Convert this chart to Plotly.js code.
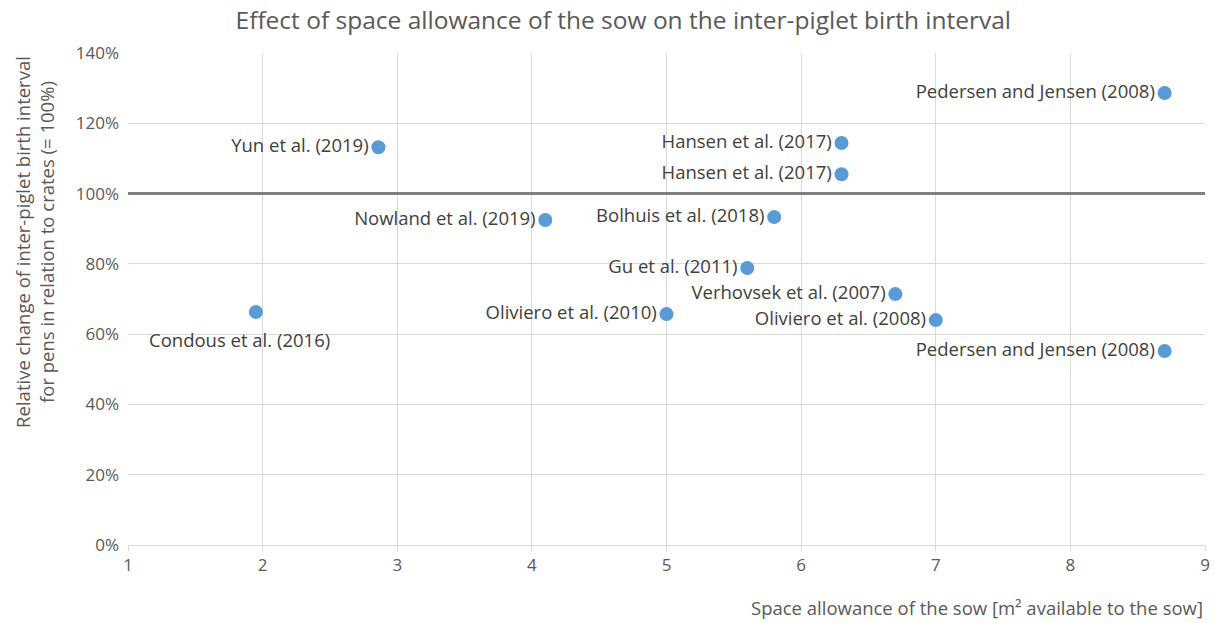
<!DOCTYPE html>
<html><head><meta charset="utf-8">
<script src="https://cdn.plot.ly/plotly-3.0.1.min.js"></script>
<style>html,body{margin:0;padding:0;background:#fff}#chart{width:1215px;height:623px}</style>
</head><body><div id="chart"></div>
<script>
const studies = ["Condous et al. (2016)","Yun et al. (2019)","Nowland et al. (2019)","Oliviero et al. (2010)","Gu et al. (2011)","Bolhuis et al. (2018)","Hansen et al. (2017)","Hansen et al. (2017)","Verhovsek et al. (2007)","Oliviero et al. (2008)","Pedersen and Jensen (2008)","Pedersen and Jensen (2008)"];
const space = [1.95, 2.86, 4.1, 5.0, 5.6, 5.8, 6.3, 6.3, 6.7, 7.0, 8.7, 8.7];
const relChange = [0.663, 1.132, 0.925, 0.657, 0.788, 0.933, 1.144, 1.055, 0.714, 0.640, 1.286, 0.552];
const refX = [1, 9];
const refY = [1.0, 1.0];

const font = "Open Sans, Liberation Sans, sans-serif";
// first study label sits below its point; others to the left
const sideText = studies.map((s,i)=> i===0 ? "" : s);
const traces = [
 {x: refX, y: refY, mode: "lines", line: {color: "#808080", width: 3}, hoverinfo: "skip", showlegend: false},
 {x: space, y: relChange, mode: "markers+text", text: sideText, textposition: "middle left",
  textfont: {family: font, size: 18.5, color: "#404040"},
  marker: {color: "#5B9BD5", size: 14}, showlegend: false, cliponaxis: false}
];
const layout = {
 width: 1215, height: 623,
 margin: {l: 128, r: 10, t: 53, b: 78},
 paper_bgcolor: "#fff", plot_bgcolor: "#fff",
 font: {family: font, color: "#595959", size: 17},
 title: {text: "Effect of space allowance of the sow on the inter-piglet birth interval", x: 0.513, xanchor: "center", y: 0.968, yanchor: "middle", font: {size: 24.5, color: "#595959", family: font}},
 xaxis: {range: [1, 9], dtick: 1, tick0: 1, showgrid: true, gridcolor: "#D9D9D9", gridwidth: 1, zeroline: false,
   showline: true, linecolor: "#D9D9D9", ticks: "outside", ticklen: 5, tickcolor: "#D9D9D9", tickfont: {size: 17, color: "#595959"}},
 yaxis: {range: [0, 1.4], dtick: 0.2, tickformat: ".0%", showgrid: true, gridcolor: "#D9D9D9", zeroline: false,
   showline: false, ticks: "", ticklabelstandoff: 8, tickfont: {size: 17, color: "#595959"}},
 annotations: [
  {xref: "paper", yref: "paper", x: 1, y: -0.128, xanchor: "right", yanchor: "middle", showarrow: false,
   text: "Space allowance of the sow [m² available to the sow]", font: {size: 18.5, color: "#595959", family: font}},
  {xref: "paper", yref: "paper", x: -0.0864, y: 0.616, xanchor: "center", yanchor: "middle", textangle: -90, showarrow: false,
   text: "Relative change of inter-piglet birth interval<br>for pens in relation to crates (= 100%)", font: {size: 18.5, color: "#595959", family: font}},
  {xref: "x", yref: "y", x: space[0], y: relChange[0], xanchor: "center", yanchor: "middle", xshift: -16, yshift: -27, showarrow: false,
   text: studies[0], font: {size: 18.5, color: "#404040", family: font}}
 ]
};
Plotly.newPlot("chart", traces, layout, {displayModeBar: false});
</script></body></html>
